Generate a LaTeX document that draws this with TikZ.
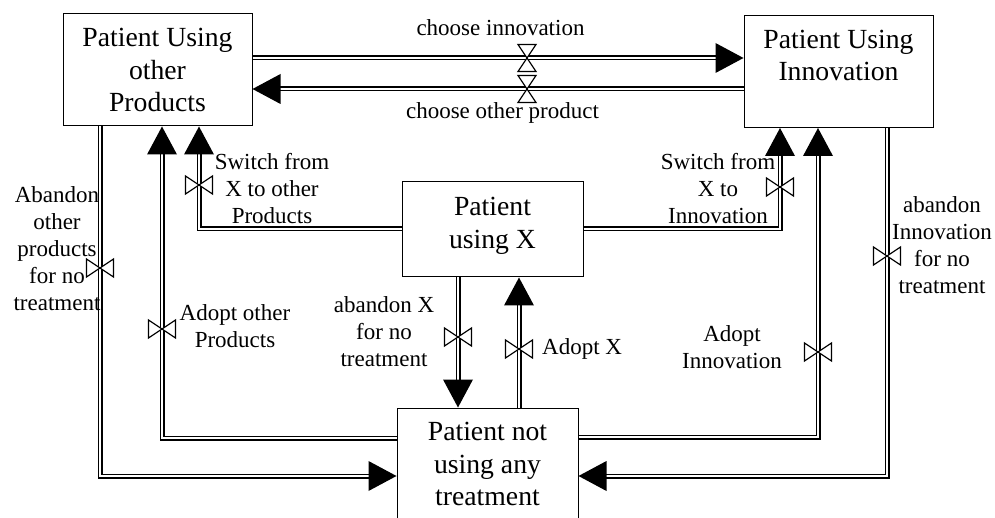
\documentclass[tikz,border=0pt]{standalone}
\usepackage{fontspec}
\setmainfont{Liberation Serif}
\begin{document}
\begin{tikzpicture}[x=1pt, y=-1pt,
    stock/.style ={draw, line width=1pt, align=center, minimum width=189pt, minimum height=112pt,
                   font=\fontsize{27.7pt}{32.5pt}\selectfont},
    flow/.style  ={draw=black, double=white, line width=1.4pt, double distance=2.2pt},
    rate/.style  ={align=center, inner sep=0pt, font=\fontsize{23pt}{27pt}\selectfont},
    hvalve/.pic  ={\draw[fill=white, line width=1.2pt] (-9,-13.5) -- (9,13.5) -- (-9,13.5) -- (9,-13.5) -- cycle;},
    vvalve/.pic  ={\draw[fill=white, line width=1.2pt] (-13.5,-9) -- (13.5,9) -- (13.5,-9) -- (-13.5,9) -- cycle;}]
   \useasboundingbox (0,0) rectangle (995,518);
   \node[stock] (other) at (157.5,70)  {Patient Using\\other\\Products};
   \node[stock] (innov) at (838.5,71.5) {Patient Using\\Innovation\\\mbox{}};
   \node[stock, minimum width=181pt, minimum height=95pt] (usingx) at (492.5,229.5) {Patient\\using X\\[-19pt]\mbox{}};
   \node[stock, minimum width=181pt] (none) at (487.5,464) {Patient not\\using any\\treatment};
   \coordinate (vci) at (527,58);
   \coordinate (vco) at (527,89);
   \coordinate (vao) at (100,268);
   \coordinate (vdo) at (162,329);
   \coordinate (vxo) at (199,185);
   \coordinate (vxi) at (780,187);
   \coordinate (vdi) at (818,352);
   \coordinate (vai) at (887,256);
   \coordinate (vax) at (458,337);
   \coordinate (vdx) at (519,349);
   \coordinate (kao) at (100,476);
   \coordinate (kdo) at (162,438);
   \coordinate (kxo) at (199,229);
   \coordinate (kxi) at (780,229);
   \coordinate (kdi) at (818,437);
   \coordinate (kai) at (887,476);
   \draw[flow, shorten >=20pt] (other.east |- vci) -- (innov.west |- vci);
   \draw[flow, shorten >=20pt] (innov.west |- vco) -- (other.east |- vco);
   \draw[flow, shorten >=20pt] (other.south -| kao) -- (kao) -- (none.west |- kao);
   \draw[flow, shorten >=20pt] (none.west |- kdo) -- (kdo) -- (other.south -| kdo);
   \draw[flow, shorten >=20pt] (usingx.west |- kxo) -- (kxo) -- (other.south -| kxo);
   \draw[flow, shorten >=20pt] (usingx.east |- kxi) -- (kxi) -- (innov.south -| kxi);
   \draw[flow, shorten >=20pt] (none.east |- kdi) -- (kdi) -- (innov.south -| kdi);
   \draw[flow, shorten >=20pt] (innov.south -| kai) -- (kai) -- (none.east |- kai);
   \draw[flow, shorten >=20pt] (usingx.south -| vax) -- (none.north -| vax);
   \draw[flow, shorten >=20pt] (none.north -| vdx) -- (usingx.south -| vdx);
   \fill (innov.west |- vci) -- ++(-28,15) -- ++(0,-30) -- cycle;
   \fill (other.east |- vco) -- ++(28,15) -- ++(0,-30) -- cycle;
   \fill (none.west |- kao) -- ++(-28,15) -- ++(0,-30) -- cycle;
   \fill (other.south -| kdo) -- ++(-15,28) -- ++(30,0) -- cycle;
   \fill (other.south -| kxo) -- ++(-15,28) -- ++(30,0) -- cycle;
   \fill (innov.south -| kxi) -- ++(-15,28) -- ++(30,0) -- cycle;
   \fill (innov.south -| kdi) -- ++(-15,28) -- ++(30,0) -- cycle;
   \fill (none.east |- kai) -- ++(28,15) -- ++(0,-30) -- cycle;
   \fill (none.north -| vax) -- ++(-15,-28) -- ++(30,0) -- cycle;
   \fill (usingx.south -| vdx) -- ++(-15,28) -- ++(30,0) -- cycle;
   \pic at (vci) {hvalve};
   \pic at (vco) {hvalve};
   \pic at (vao) {vvalve};
   \pic at (vdo) {vvalve};
   \pic at (vxo) {vvalve};
   \pic at (vxi) {vvalve};
   \pic at (vdi) {vvalve};
   \pic at (vai) {vvalve};
   \pic at (vax) {vvalve};
   \pic at (vdx) {vvalve};
   \node[rate] (lci) at (500.5,28)  {choose innovation};
   \node[rate] (lco) at (502.5,113) {choose other product};
   \node[rate] (lao) at (57,249)    {Abandon\\other\\products\\for no\\treatment};
   \node[rate] (ldo) at (235,326)   {Adopt other\\Products};
   \node[rate] (lxo) at (272,189)   {Switch from\\X to other\\Products};
   \node[rate] (lxi) at (718,189)   {Switch from\\X to\\Innovation};
   \node[rate] (ldi) at (732,347)   {Adopt\\Innovation};
   \node[rate] (lai) at (942,245.5) {abandon\\Innovation\\for no\\treatment};
   \node[rate] (lax) at (384,332)   {abandon X\\for no\\treatment};
   \node[rate, anchor=west] (ldx) at (542,349) {Adopt X};
\end{tikzpicture}
\end{document}
